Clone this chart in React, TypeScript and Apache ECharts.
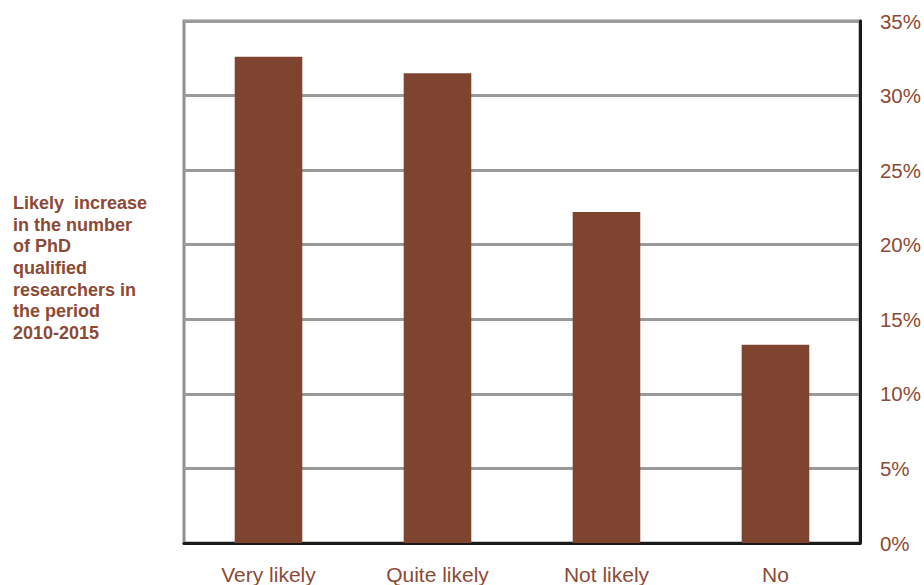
import React, { useEffect, useRef } from "react";
import * as echarts from "echarts";

const categories = ["Very likely", "Quite likely", "Not likely", "No"];
const values = [32.6, 31.5, 22.2, 13.3];
const titleLines = [
  "Likely  increase",
  "in the number",
  "of PhD",
  "qualified",
  "researchers in",
  "the period",
  "2010-2015",
];

const BROWN_TEXT = "#8c4a35";
const BAR = "#7f4430";

export default function App() {
  const ref = useRef<HTMLDivElement>(null);
  useEffect(() => {
    if (!ref.current) return;
    const chart = echarts.init(ref.current, undefined, { renderer: "svg" });
    chart.setOption({
      animation: false,
      grid: {
        left: 184,
        right: 62,
        top: 21,
        bottom: 40,
        show: true,
        borderColor: "#8f8f8f",
        borderWidth: 3,
        backgroundColor: "transparent",
      },
      xAxis: {
        type: "category",
        data: categories,
        axisLine: { show: true, lineStyle: { color: "#1a1a1a", width: 3 } },
        axisTick: { show: false },
        axisLabel: {
          color: BROWN_TEXT,
          fontSize: 21,
          fontFamily: "Liberation Sans, Arial, sans-serif",
          margin: 21,
        },
      },
      yAxis: {
        type: "value",
        position: "right",
        min: 0,
        max: 35,
        interval: 5,
        axisLine: { show: true, lineStyle: { color: "#1a1a1a", width: 3 } },
        axisTick: { show: false },
        splitLine: { show: true, lineStyle: { color: "#9a9a9a", width: 3 } },
        axisLabel: {
          color: BROWN_TEXT,
          fontSize: 20.5,
          fontFamily: "Liberation Sans, Arial, sans-serif",
          margin: 20,
          formatter: "{value}%",
        },
      },
      graphic: [
        {
          type: "text",
          left: 13,
          top: 192,
          style: {
            text: titleLines.join("\n"),
            fill: BROWN_TEXT,
            font: "bold 18px 'Liberation Sans', Arial, sans-serif",
            lineHeight: 21.7,
          },
        },
      ],
      series: [
        {
          type: "bar",
          data: values,
          barWidth: "40%",
          itemStyle: { color: BAR },
        },
      ],
    });
    return () => chart.dispose();
  }, []);
  return (
    <div
      ref={ref}
      style={{ position: "absolute", left: 0, top: 0, width: 924, height: 585, background: "#fff" }}
    />
  );
}
